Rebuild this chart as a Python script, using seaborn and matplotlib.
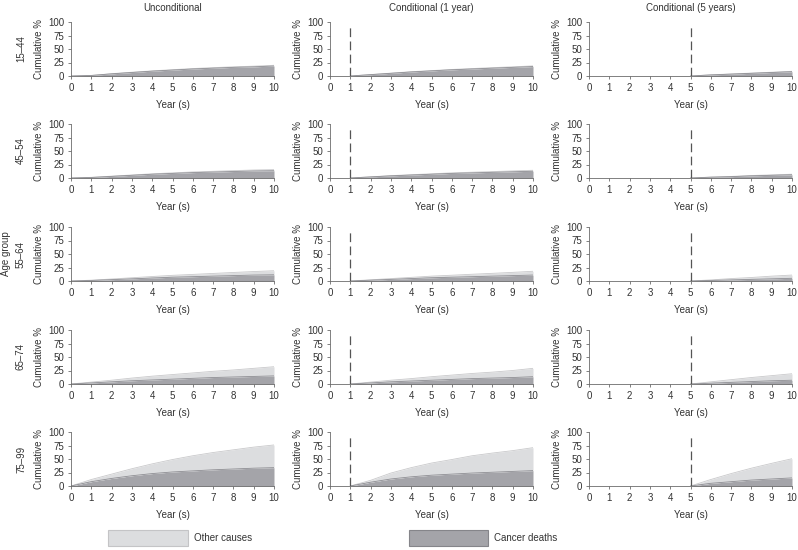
import matplotlib
matplotlib.use('Agg')
import matplotlib.pyplot as plt
import seaborn as sns
from matplotlib.patches import Patch

# ---- data (cumulative %) ----
age_groups = ['15–44', '45–54', '55–64', '65–74', '75–99']
conditions = ['Unconditional', 'Conditional (1 year)', 'Conditional (5 years)']
start_years = [0, 1, 5]

# unconditional: years 0..10
cancer_uncond = [
    [0, 1, 4, 6.5, 9, 11, 13, 14.5, 16, 17, 18.5],
    [0, 1, 3, 5, 7, 8.5, 10, 11, 12, 13, 13.5],
    [0, 1, 2.5, 4, 5.5, 7, 8, 9, 10, 11, 11.5],
    [0, 2, 4, 6, 7.5, 9, 10.5, 12, 13, 14, 15],
    [0, 8, 14, 19, 23, 26, 28, 30, 31.5, 33, 34],
]
other_uncond = [
    [0, 0, 0.3, 0.5, 0.5, 0.7, 0.8, 1, 1, 1.2, 1.3],
    [0, 0.2, 0.4, 0.6, 0.8, 1, 1.2, 1.4, 1.6, 1.8, 2],
    [0, 0.5, 1.2, 2, 2.8, 3.5, 4.2, 5, 5.8, 6.5, 7.5],
    [0, 1.5, 3, 5, 7, 8.5, 10, 11.5, 13, 15, 17],
    [0, 4, 8, 13, 18, 23, 28, 32, 35.5, 39, 42],
]
# conditional on 1 year survival: years 1..10
cancer_cond1 = [
    [0, 2.5, 5, 7.5, 9.5, 11.5, 13, 14.5, 16, 17.5],
    [0, 2, 4, 5.5, 7, 8.5, 9.5, 10.5, 11.5, 12.5],
    [0, 1.5, 3, 4.5, 6, 7, 8, 9, 10, 11],
    [0, 2, 4, 5.5, 7, 8.5, 10, 11, 12, 13.5],
    [0, 7, 13, 17, 20, 22, 24, 25.5, 27, 28.5],
]
other_cond1 = [
    [0, 0.2, 0.3, 0.5, 0.5, 0.6, 0.8, 1, 1, 1.2],
    [0, 0.2, 0.4, 0.6, 0.8, 1, 1.2, 1.4, 1.6, 1.8],
    [0, 0.7, 1.5, 2.2, 3, 3.7, 4.5, 5.2, 6, 7],
    [0, 1.5, 3, 4.5, 6.5, 8, 9.5, 11, 13, 15.5],
    [0, 3.5, 11, 17, 22.5, 27, 32, 35.5, 38.5, 42.5],
]
# conditional on 5 years survival: years 5..10
cancer_cond5 = [
    [0, 2, 3.5, 5, 6.5, 8],
    [0, 1.5, 2.5, 4, 5, 6],
    [0, 1, 2, 3, 4, 5],
    [0, 1.5, 3, 4.5, 6, 7],
    [0, 5, 8, 11, 13, 15],
]
other_cond5 = [
    [0, 0.2, 0.3, 0.4, 0.5, 0.7],
    [0, 0.2, 0.4, 0.6, 0.8, 1],
    [0, 1, 2.5, 3.5, 5, 6],
    [0, 2.5, 5, 7.5, 9.5, 12],
    [0, 7, 15, 22, 29, 35.5],
]
cancer_all = [cancer_uncond, cancer_cond1, cancer_cond5]
other_all = [other_uncond, other_cond1, other_cond5]

x_ticks = list(range(11))
y_ticks = [0, 25, 50, 75, 100]

c_other = '#dcdddf'
c_cancer = '#a4a4a9'
c_axis = '#6b6b6b'
c_text = '#333333'
fs = 7

sns.set_style('ticks')
plt.rcParams['font.family'] = ['Liberation Sans', 'DejaVu Sans']
plt.rcParams['font.size'] = fs

W, H = 798, 550
fig = plt.figure(figsize=(W / 100, H / 100), dpi=100)

col_left = [71, 330, 589]
ax_w = 203
row_top = [22, 124, 227, 330, 432]
ax_h = 54

for r, age in enumerate(age_groups):
    for c, cond in enumerate(conditions):
        left = col_left[c]
        top = row_top[r]
        ax = fig.add_axes([left / W, 1 - (top + ax_h) / H, ax_w / W, ax_h / H])
        s = start_years[c]
        yrs = x_ticks[s:]
        cancer = cancer_all[c][r]
        other = other_all[c][r]
        total = [a + b for a, b in zip(cancer, other)]
        ax.fill_between(yrs, 0, cancer, color=c_cancer, lw=0)
        ax.fill_between(yrs, cancer, total, color=c_other, lw=0)
        sns.lineplot(x=yrs, y=total, ax=ax, color='#c9c9cb', lw=0.6)
        sns.lineplot(x=yrs, y=cancer, ax=ax, color='#8e8e93', lw=0.6)
        if s > 0:
            ax.plot([s, s], [0, 92], color='#555555', lw=0.9,
                    dashes=(7, 3.5))
        ax.set_xlim(0, 10)
        ax.set_ylim(0, 100)
        ax.set_xticks(x_ticks)
        ax.set_yticks(y_ticks)
        ax.tick_params(length=2.5, width=0.6, color=c_axis, labelcolor=c_text,
                       labelsize=fs, pad=2.5)
        for sp in ['top', 'right']:
            ax.spines[sp].set_visible(False)
        for sp in ['left', 'bottom']:
            ax.spines[sp].set_color(c_axis)
            ax.spines[sp].set_linewidth(0.6)
        ax.set_xlabel('Year (s)', fontsize=fs, color=c_text, labelpad=5)
        ax.set_ylabel('Cumulative %', fontsize=fs, color=c_text, labelpad=3)
        if r == 0:
            ax.set_title(cond, fontsize=fs, color=c_text, pad=8)
        if c == 0:
            fig.text(21 / W, 1 - (top + ax_h / 2) / H, age, rotation=90,
                     ha='center', va='center', fontsize=fs, color=c_text)

fig.text(6 / W, 1 - (row_top[2] + ax_h / 2) / H, 'Age group', rotation=90,
         ha='center', va='center', fontsize=fs, color=c_text)

handles = [Patch(facecolor=c_other, edgecolor='#c4c4c6', lw=0.8, label='Other causes'),
           Patch(facecolor=c_cancer, edgecolor='#85858a', lw=0.8, label='Cancer deaths')]
fig.legend(handles=handles, ncol=2, frameon=False, loc='center',
           bbox_to_anchor=(333 / W, 1 - 538 / H), fontsize=fs,
           handlelength=8.2, handleheight=2.1, handletextpad=0.6,
           columnspacing=16.1, labelcolor=c_text, borderpad=0.2)

fig.savefig('out.png', dpi=100)
